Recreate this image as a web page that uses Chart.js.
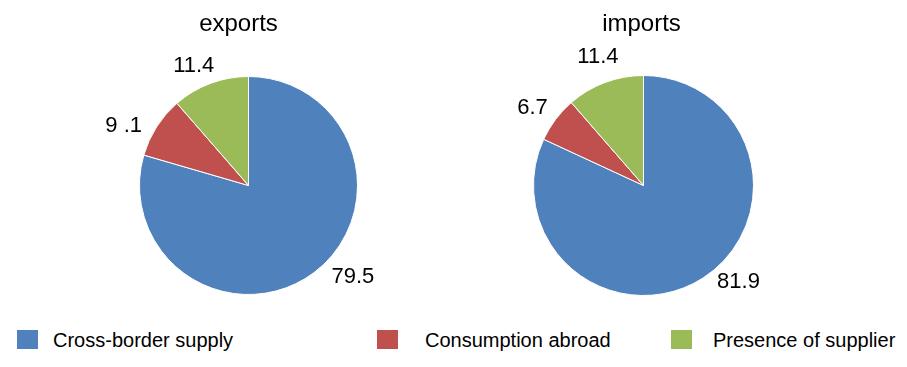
<!DOCTYPE html>
<html>
<head>
<meta charset="utf-8">
<script src="https://cdn.jsdelivr.net/npm/chart.js@4"></script>
<style>
  html, body { margin:0; padding:0; background:#fff; }
  body { width:907px; height:367px; position:relative; overflow:hidden; font-family:"Liberation Sans", Arial, sans-serif; }
  canvas { position:absolute; top:0; }
  .leg-box { position:absolute; top:330px; width:21px; height:19px; }
  .leg-txt { position:absolute; top:330px; font-size:20px; line-height:20px; color:#000; white-space:nowrap; }
</style>
</head>
<body>
<canvas id="c1" width="453" height="310" style="left:0px"></canvas>
<canvas id="c2" width="454" height="310" style="left:453px"></canvas>
<div id="legend"></div>
<script>
// ---- data ----
const categories = ["Cross-border supply", "Consumption abroad", "Presence of supplier"];
const exportsValues = [79.5, 9.1, 11.4];
const importsValues = [81.9, 6.7, 11.4];
const exportsLabels = ["79.5", "9 .1", "11.4"];
const importsLabels = ["81.9", "6.7", "11.4"];
const titles = ["exports", "imports"];
const colors = ["#4F81BD", "#C0504D", "#9BBB59"];

const FONT = '"Liberation Sans", Arial, sans-serif';

// draws a title above the pie and value labels outside each slice
const pieText = {
  id: 'pieText',
  afterDatasetsDraw(chart, args, opts) {
    const ctx = chart.ctx;
    const meta = chart.getDatasetMeta(0);
    const area = chart.chartArea;
    ctx.save();
    ctx.fillStyle = '#000';
    ctx.textAlign = 'center';
    ctx.font = '24px ' + FONT;
    ctx.textBaseline = 'alphabetic';
    ctx.fillText(opts.title, (area.left + area.right) / 2 + opts.titleDx, opts.titleBaseline);
    ctx.font = '22px ' + FONT;
    ctx.textBaseline = 'middle';
    meta.data.forEach((arc, i) => {
      const p = arc.getProps(['x', 'y', 'startAngle', 'endAngle', 'outerRadius'], true);
      const mid = (p.startAngle + p.endAngle) / 2 + opts.angleShift[i] * Math.PI / 180;
      const d = p.outerRadius * opts.distFactor[i];
      ctx.fillText(opts.labels[i], p.x + Math.cos(mid) * d, p.y + Math.sin(mid) * d);
    });
    ctx.restore();
  }
};

function makePie(id, values, labels, title, padding, titleDx, angleShift, distFactor) {
  return new Chart(document.getElementById(id), {
    type: 'pie',
    data: {
      labels: categories,
      datasets: [{
        data: values,
        backgroundColor: colors,
        borderColor: '#ffffff',
        borderWidth: 1
      }]
    },
    options: {
      responsive: false,
      animation: false,
      layout: { padding: padding },
      plugins: {
        legend: { display: false },
        tooltip: { enabled: false },
        title: { display: false },
        pieText: { title: title, titleDx: titleDx, titleBaseline: 31, labels: labels, angleShift: angleShift, distFactor: distFactor }
      }
    },
    plugins: [pieText]
  });
}

makePie('c1', exportsValues, exportsLabels, titles[0],
  { top: 76, bottom: 15, left: 139, right: 95 }, -10, [-12, -7, -4], [1.27, 1.27, 1.21]);
makePie('c2', importsValues, importsLabels, titles[1],
  { top: 75, bottom: 14, left: 80, right: 153 }, -2, [-12, -2, 1], [1.23, 1.23, 1.24]);

// legend built from categories
const legendBoxX = [17, 377, 671];
const legendTextX = [53, 425, 713];
const legend = document.getElementById('legend');
categories.forEach((c, i) => {
  const b = document.createElement('div');
  b.className = 'leg-box';
  b.style.left = legendBoxX[i] + 'px';
  b.style.background = colors[i];
  legend.appendChild(b);
  const t = document.createElement('div');
  t.className = 'leg-txt';
  t.style.left = legendTextX[i] + 'px';
  t.textContent = c;
  legend.appendChild(t);
});
</script>
</body>
</html>
